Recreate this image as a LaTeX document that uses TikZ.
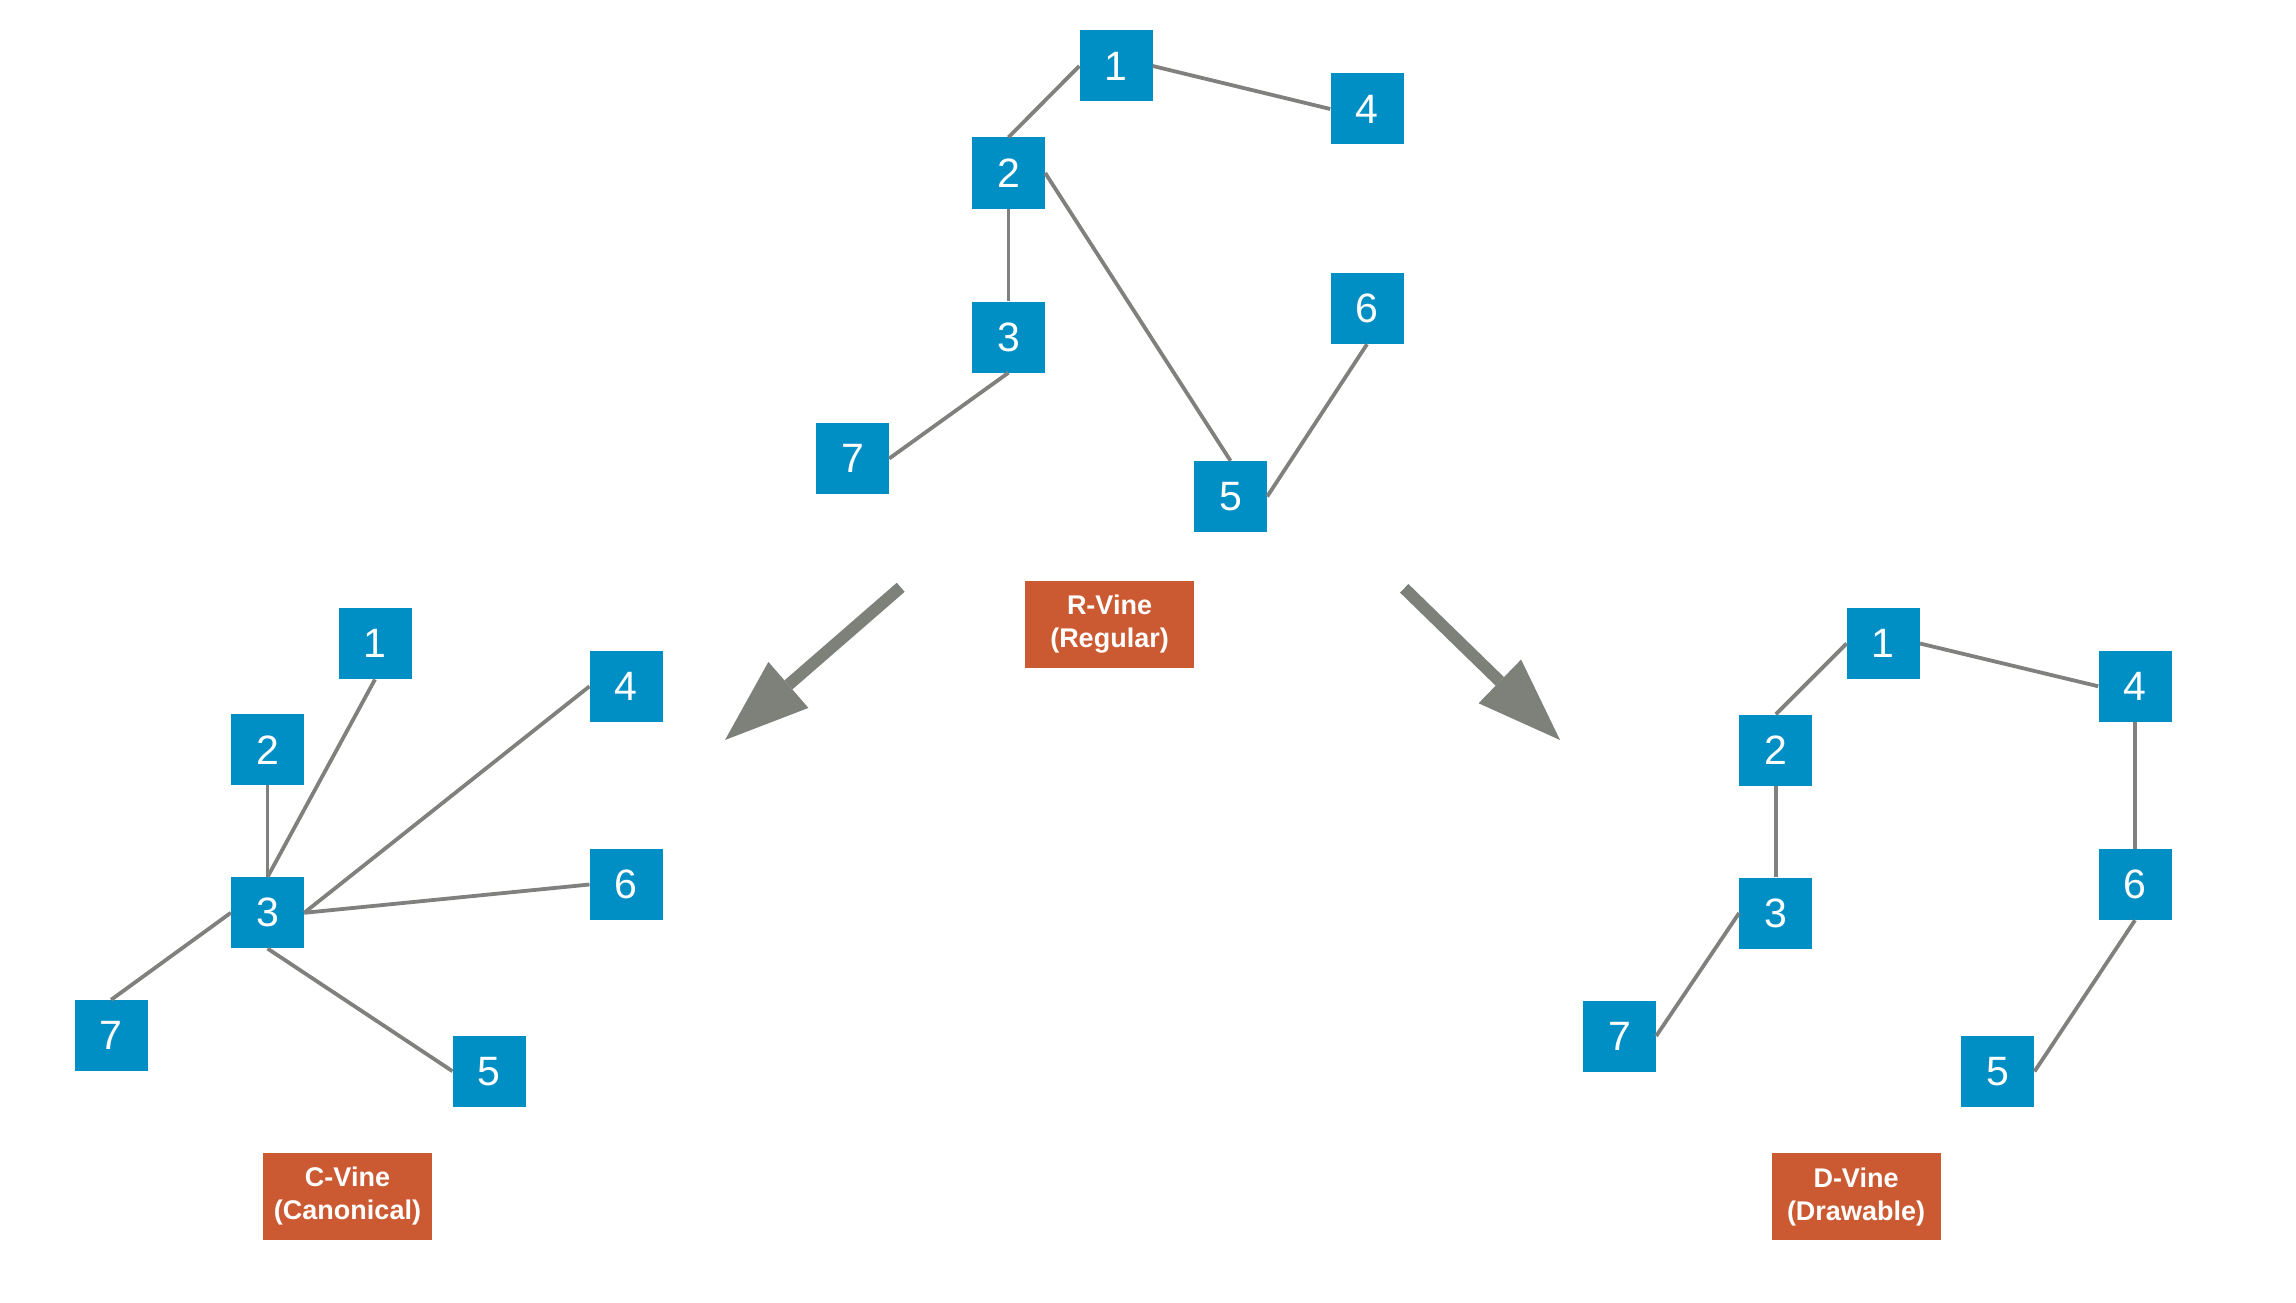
\documentclass[tikz,border=0pt]{standalone}
\usepackage{fontspec}
\setmainfont{Liberation Sans}
\usetikzlibrary{arrows.meta}
\definecolor{nodeblue}{RGB}{0,143,196}
\definecolor{labelorange}{RGB}{203,90,51}
\definecolor{edgegray}{RGB}{128,128,126}
\definecolor{arrowgray}{RGB}{126,128,122}
\tikzset{
  vnode/.style={rectangle, fill=nodeblue, text=white, inner sep=0pt,
    minimum width=73pt, minimum height=71pt,
    font=\fontsize{41}{41}\selectfont},
  vlabel/.style={rectangle, fill=labelorange, text=white, inner sep=0pt,
    minimum width=169pt, minimum height=87pt, align=center,
    font=\fontsize{27}{33}\selectfont\bfseries},
  vedge/.style={draw=edgegray, line width=3.8pt},
  bigarrow/.style={draw=arrowgray, line width=12pt,
    -{Triangle[length=84pt, width=61pt, line width=0pt]}}
}
\begin{document}
\begin{tikzpicture}[x=1pt,y=-1pt]
\useasboundingbox (0,0) rectangle (2296,1303);
% R-Vine
\node[vnode] (r1) at (1116,66) {1};
\node[vnode] (r4) at (1367,109) {4};
\node[vnode] (r2) at (1008.5,173) {2};
\node[vnode] (r3) at (1008.5,337) {3};
\node[vnode] (r6) at (1367,308.5) {6};
\node[vnode] (r7) at (852.5,458.5) {7};
\node[vnode] (r5) at (1230.5,496.5) {5};
\node[vlabel] (lr) at (1109.5,624) {R-Vine\\(Regular)};
\draw[vedge] (r1.west) -- (r2.north);
\draw[vedge] (r1.east) -- (r4.west);
\draw[vedge] (r2.south) -- (r3.north);
\draw[vedge] (r2.east) -- (r5.north);
\draw[vedge] (r3.south) -- (r7.east);
\draw[vedge] (r6.south) -- (r5.east);
% C-Vine
\node[vnode] (c1) at (375,643.7) {1};
\node[vnode] (c2) at (267.5,749.7) {2};
\node[vnode] (c3) at (267.5,912.8) {3};
\node[vnode] (c4) at (626.2,686.3) {4};
\node[vnode] (c6) at (626.2,884.5) {6};
\node[vnode] (c7) at (111.1,1035.5) {7};
\node[vnode] (c5) at (489.2,1071.2) {5};
\node[vlabel] (lc) at (347.5,1196) {C-Vine\\(Canonical)};
\draw[vedge] (c1.south) -- (c3.north);
\draw[vedge] (c2.south) -- (c3.north);
\draw[vedge] (c4.west) -- (c3.east);
\draw[vedge] (c6.west) -- (c3.east);
\draw[vedge] (c7.north) -- (c3.west);
\draw[vedge] (c3.south) -- (c5.west);
% D-Vine
\node[vnode] (d1) at (1883.3,643.5) {1};
\node[vnode] (d2) at (1775.8,750) {2};
\node[vnode] (d3) at (1775.8,913) {3};
\node[vnode] (d4) at (2135,686.3) {4};
\node[vnode] (d6) at (2135,884.5) {6};
\node[vnode] (d7) at (1619.5,1036) {7};
\node[vnode] (d5) at (1997.8,1071.5) {5};
\node[vlabel] (ld) at (1856,1196.7) {D-Vine\\(Drawable)};
\draw[vedge] (d1.west) -- (d2.north);
\draw[vedge] (d1.east) -- (d4.west);
\draw[vedge] (d2.south) -- (d3.north);
\draw[vedge] (d3.west) -- (d7.east);
\draw[vedge] (d4.south) -- (d6.north);
\draw[vedge] (d6.south) -- (d5.east);
% transition arrows
\coordinate (aLs) at (900.7,587.3);
\coordinate (aLt) at (725,740);
\coordinate (aRs) at (1404.2,588.3);
\coordinate (aRt) at (1560,740);
\draw[bigarrow] (aLs) -- (aLt);
\draw[bigarrow] (aRs) -- (aRt);
\end{tikzpicture}
\end{document}
